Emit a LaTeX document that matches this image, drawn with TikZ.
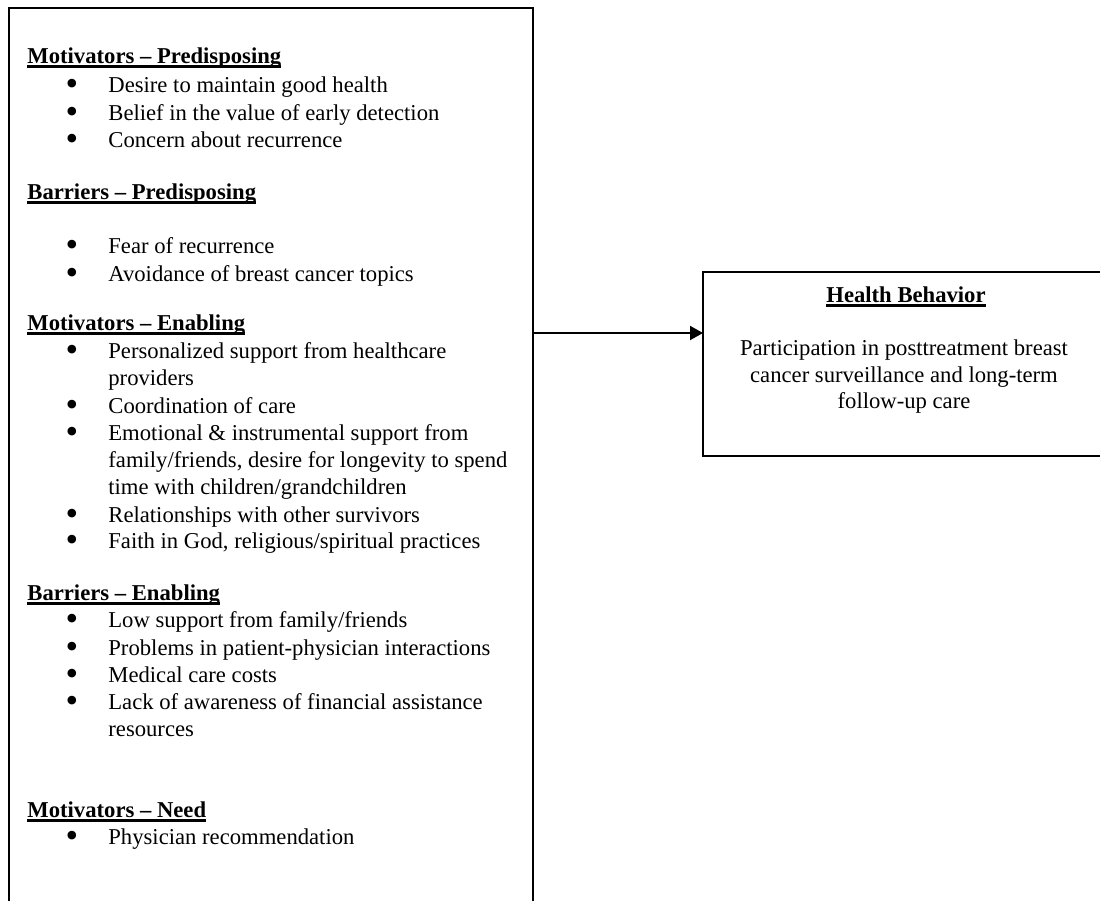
\documentclass[tikz,border=0pt]{standalone}
\usepackage{fontspec}
\setmainfont{Liberation Serif}
\usetikzlibrary{arrows.meta}

\newcommand{\hdline}[1]{\setbox0\hbox{\bfseries #1}\rlap{\usebox0}\rule[-2.4pt]{\wd0}{1.2pt}}

\begin{document}
\begin{tikzpicture}[x=0.5pt,y=-0.5pt,
    every node/.style={inner sep=0pt,font=\fontsize{11.33}{13.7}\selectfont},
    box/.style={draw,line width=1pt,anchor=north west,outer sep=0pt},
    hdr/.style={anchor=base west},
    itm/.style={anchor=base west},
    bul/.style={anchor=base,font=\fontsize{18}{18}\selectfont},
    ctr/.style={anchor=base}]
  \useasboundingbox (0,0) rectangle (1100,901);
  \clip (0,0) rectangle (1100,901);

  % the two boxes
  \node[box,minimum width=262pt,minimum height=461pt] (factors) at (9,8) {};
  \node[box,minimum width=202pt,minimum height=92pt] (behavior) at (703,272) {};

  \coordinate (arr) at (600,333);
  \draw[line width=1pt,-{Triangle[length=6.5pt,width=7pt]}] (factors.east |- arr) -- (behavior.west |- arr);

  % left box: headings
  \node[hdr] (motpre) at (27,63) {\hdline{Motivators -- Predisposing}};
  \node[hdr] (barpre) at (27,199) {\hdline{Barriers -- Predisposing}};
  \node[hdr] (motena) at (27,330) {\hdline{Motivators -- Enabling}};
  \node[hdr] (barena) at (27,600) {\hdline{Barriers -- Enabling}};
  \node[hdr] (motneed) at (27,817) {\hdline{Motivators -- Need}};

  % left box: items
  \node[itm] (desire) at (108,92) {Desire to maintain good health};
  \node[itm] (belief) at (108,120) {Belief in the value of early detection};
  \node[itm] (concern) at (108,147) {Concern about recurrence};
  \node[itm] (fear) at (108,253) {Fear of recurrence};
  \node[itm] (avoid) at (108,281) {Avoidance of breast cancer topics};
  \node[itm] (support) at (108,358) {Personalized support from healthcare};
  \node[itm] (support2) at (108,385) {providers};
  \node[itm] (coord) at (108,413) {Coordination of care};
  \node[itm] (emot) at (108,440) {Emotional \& instrumental support from};
  \node[itm] (emot2) at (108,467) {family/friends, desire for longevity to spend};
  \node[itm] (emot3) at (108,494) {time with children/grandchildren};
  \node[itm] (relat) at (108,522) {Relationships with other survivors};
  \node[itm] (faith) at (108,548) {Faith in God, religious/spiritual practices};
  \node[itm] (low) at (108,627) {Low support from family/friends};
  \node[itm] (probl) at (108,655) {Problems in patient-physician interactions};
  \node[itm] (costs) at (108,682) {Medical care costs};
  \node[itm] (lack) at (108,709) {Lack of awareness of financial assistance};
  \node[itm] (lack2) at (108,736) {resources};
  \node[itm] (recom) at (108,844) {Physician recommendation};

  \foreach \y [count=\i] in {92,120,147,253,281,358,413,440,522,548,627,655,682,709,844}
    \node[bul] (b\i) at (72,\y+3.4) {\textbullet};

  % right box
  \node[ctr] (hbtitle) at (906,302) {\hdline{Health Behavior}};
  \node[ctr] (part1) at (904,355) {Participation in posttreatment breast};
  \node[ctr] (part2) at (904,382) {cancer surveillance and long-term};
  \node[ctr] (part3) at (904,408) {follow-up care};
\end{tikzpicture}
\end{document}
